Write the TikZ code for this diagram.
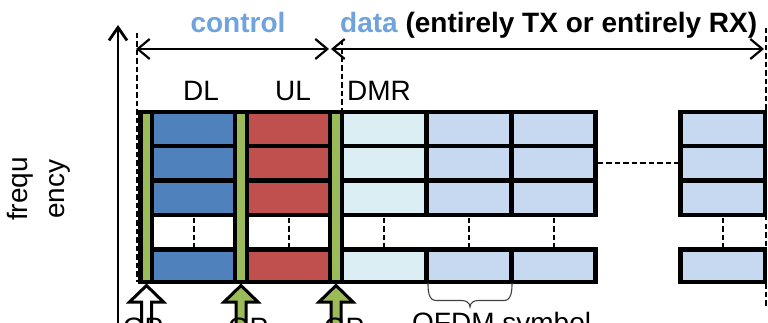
\documentclass[tikz,border=0pt]{standalone}
\usepackage{fontspec}
\setmainfont{Liberation Sans}
\usetikzlibrary{arrows.meta}

\definecolor{dlblue}{RGB}{79,129,189}
\definecolor{ulred}{RGB}{192,80,77}
\definecolor{gpgreen}{RGB}{155,187,89}
\definecolor{dmrcyan}{RGB}{219,238,244}
\definecolor{datablue}{RGB}{198,217,241}
\definecolor{labelblue}{RGB}{111,163,222}

\tikzset{
  cell/.style={draw=black, line width=4.5pt, line join=miter},
  guide/.style={black, line width=2pt, dash pattern=on 5.5pt off 3pt},
  span/.style={black, line width=2.2pt,
    {Straight Barb[length=12pt,width=20pt]}-{Straight Barb[length=12pt,width=20pt]}},
  lbl/.style={font=\fontsize{28}{32}\selectfont, inner sep=0pt},
  gparrow/.style={draw=black, line width=3pt, line join=miter},
  bracepath/.style={draw=black!75, line width=1.1pt}
}

\begin{document}
\begin{tikzpicture}[x=1pt, y=-1pt]
\useasboundingbox (0,0) rectangle (768,323);

% frequency axis
\coordinate (axisfoot) at (118,330);
\coordinate (axistip) at (118,25);
\draw[line width=2.8pt, -{Straight Barb[length=13pt,width=18pt]}] (axisfoot) -- (axistip);
\node[lbl, font=\fontsize{28}{37}\selectfont, rotate=90, align=center] (freq) at (39,189) {frequ\\ency};

% guard period strips (full height)
\foreach \a/\b in {140.5/152, 235/247, 330/342}
  \draw[cell, fill=gpgreen] (\a,112) rectangle (\b,282);

% control part: DL and UL sub-carrier cells
\foreach \a/\b/\col in {152/235/dlblue, 247/330/ulred} {
  \foreach \t/\u in {112/146, 146/180.5, 180.5/215, 249.5/282}
    \draw[cell, fill=\col] (\a,\t) rectangle (\b,\u);
  \draw[cell, fill=white] (\a,215) rectangle (\b,249.5);
}

% data part: DMR column and OFDM symbol columns
\foreach \a/\b/\col in {342/426.5/dmrcyan, 426.5/511.5/datablue,
                        511.5/595.5/datablue, 680.5/765/datablue}
  \foreach \t/\u in {112/146, 146/180.5, 180.5/215, 249.5/282}
    \draw[cell, fill=\col] (\a,\t) rectangle (\b,\u);

% omitted rows and columns
\foreach \x in {193.5, 288.5, 384.25, 469, 553.5, 722.75}
  \draw[guide] (\x,217.5) -- (\x,247);
\draw[guide] (597.75,163) -- (678.25,163);

% section boundaries
\draw[guide] (137,33) -- (137,282);
\draw[guide] (341.5,40) -- (341.5,110);
\draw[guide] (766,28) -- (766,306);

% control / data spans
\coordinate (ctlL) at (136,49);
\coordinate (ctlR) at (329,49);
\coordinate (datL) at (331,49);
\coordinate (datR) at (764,49);
\draw[span] (ctlL) -- (ctlR);
\draw[span] (datL) -- (datR);

\node[lbl, font=\fontsize{28}{32}\selectfont\bfseries, text=labelblue, anchor=base] (ctl) at (238,33) {control};
\node[lbl, font=\fontsize{28}{32}\selectfont\bfseries, anchor=base west] (dat) at (340,33)
  {\textcolor{labelblue}{data} (entirely TX or entirely RX)};

% column headings
\node[lbl, anchor=base] (dl) at (201,101) {DL};
\node[lbl, anchor=base] (ul) at (293,101) {UL};
\node[lbl, anchor=base west] (dmr) at (347,101) {DMR};

% guard period markers
\foreach \cx/\col/\n in {146.5/white/1, 241/gpgreen/2, 336/gpgreen/3}
  \draw[gparrow, fill=\col] (\cx,285.5) -- (\cx+17,302) -- (\cx+5,302) -- (\cx+5,335)
    -- (\cx-5,335) -- (\cx-5,302) -- (\cx-17,302) -- cycle;
\node[lbl, anchor=base] (gpA) at (143,337) {GP};
\node[lbl, anchor=base] (gpB) at (248,337) {GP};
\node[lbl, anchor=base] (gpC) at (344,337) {GP};

% OFDM symbol brace
\draw[bracepath] (428,283) to[out=-90,in=180] (436,300.5) -- (462,300.5)
  to[out=0,in=90] (470,307) to[out=90,in=180] (478,300.5) -- (504,300.5)
  to[out=0,in=-90] (512,283);
\node[lbl, anchor=base west] (ofdm) at (412,332) {OFDM symbol};
\end{tikzpicture}
\end{document}
